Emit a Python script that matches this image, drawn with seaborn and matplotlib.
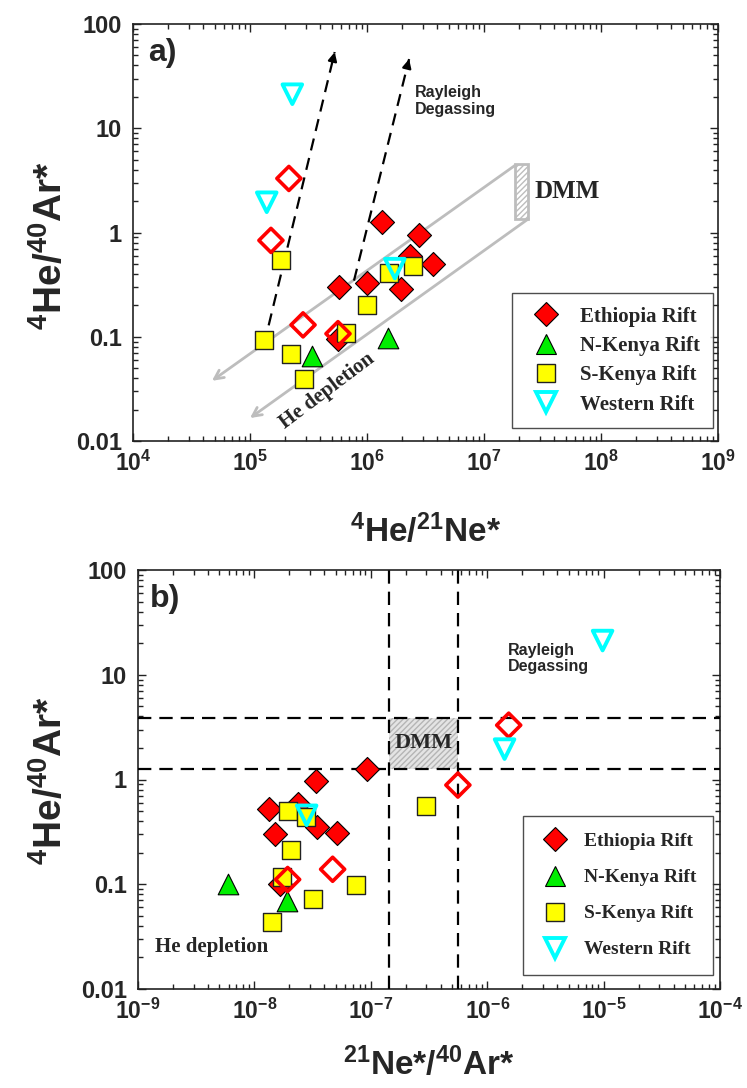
import numpy as np
import matplotlib
matplotlib.use("Agg")
import matplotlib.pyplot as plt
from matplotlib.lines import Line2D
from matplotlib.patches import Rectangle
from matplotlib.ticker import LogLocator, NullFormatter
import seaborn as sns

# ---- data -------------------------------------------------------------
groups = ["Ethiopia Rift", "N-Kenya Rift", "S-Kenya Rift", "Western Rift"]

# panel a: 4He/21Ne* vs 4He/40Ar*
eth_a_x = [1.34e6, 2.78e6, 2.33e6, 3.66e6, 1.00e6, 5.77e5, 1.95e6, 5.65e5]
eth_a_y = [1.25, 0.94, 0.59, 0.50, 0.33, 0.30, 0.29, 0.096]
eth_open_a_x = [2.15e5, 1.51e5, 2.84e5, 5.65e5]
eth_open_a_y = [3.30, 0.84, 0.130, 0.107]
nken_a_x = [3.39e5, 1.51e6]
nken_a_y = [0.066, 0.098]
sken_a_x = [1.84e5, 1.32e5, 2.24e5, 2.90e5, 6.62e5, 1.00e6, 1.54e6, 2.47e6]
sken_a_y = [0.54, 0.094, 0.069, 0.039, 0.109, 0.203, 0.41, 0.48]
west_a_x = [2.30e5, 1.39e5, 1.73e6]
west_a_y = [21.2, 1.95, 0.45]

# panel b: 21Ne*/40Ar* vs 4He/40Ar*
eth_b_x = [9.2e-8, 3.37e-8, 1.34e-8, 2.36e-8, 3.47e-8, 5.15e-8, 1.49e-8, 1.66e-8]
eth_b_y = [1.26, 0.97, 0.52, 0.59, 0.35, 0.31, 0.30, 0.10]
eth_open_b_x = [1.53e-6, 5.6e-7, 4.7e-8, 1.93e-8]
eth_open_b_y = [3.3, 0.885, 0.139, 0.111]
nken_b_x = [5.97e-9, 1.92e-8]
nken_b_y = [0.101, 0.069]
sken_b_x = [1.93e-8, 2.76e-8, 2.06e-8, 1.74e-8, 3.17e-8, 7.46e-8, 1.43e-8, 2.98e-7]
sken_b_y = [0.50, 0.44, 0.21, 0.118, 0.072, 0.098, 0.044, 0.56]
west_b_x = [9.8e-6, 1.41e-6, 2.81e-8]
west_b_y = [21.2, 1.95, 0.455]

# DMM field
dmm_a_x = [1.84e7, 2.39e7]
dmm_a_y = [1.35, 4.57]
dmm_b_x = [1.43e-7, 5.6e-7]
dmm_b_y = [1.26, 3.9]

# He-depletion trends (start, arrow tip) and Rayleigh degassing trends (start, tip)
depl_upper = [(1.84e7, 4.4), (4.73e4, 0.0378)]
depl_lower = [(2.39e7, 1.35), (1.0e5, 0.0166)]
rayl_left = [(1.316e5, 0.0837), (5.3e5, 53.8)]
rayl_right = [(7.74e5, 0.3455), (2.29e6, 46.1)]

y_ticks = [0.01, 0.1, 1, 10, 100]
y_tick_labels = ["0.01", "0.1", "1", "10", "100"]
xa_exps = [4, 5, 6, 7, 8, 9]
xb_exps = [-9, -8, -7, -6, -5, -4]

# ---- style ------------------------------------------------------------
sns.set_style("ticks")
plt.rcParams["font.family"] = ["Liberation Sans", "DejaVu Sans"]
plt.rcParams["mathtext.fontset"] = "custom"
plt.rcParams["mathtext.rm"] = "Liberation Sans"
plt.rcParams["mathtext.bf"] = "Liberation Sans:bold"
plt.rcParams["mathtext.it"] = "Liberation Sans:italic"
plt.rcParams["hatch.linewidth"] = 1.0

RED = "#FF0000"
GREEN = "#00EE00"
YELLOW = "#FFFF00"
CYAN = "#00FFFF"
GRAY = "#BDBDBD"
SERIF = ["Liberation Serif", "DejaVu Serif"]

W, H = 747, 1088
fig = plt.figure(figsize=(W / 100, H / 100), dpi=100)
ax1 = fig.add_axes([133 / W, 1 - 441 / H, 585 / W, 417 / H])
ax2 = fig.add_axes([138 / W, 1 - 989 / H, 582 / W, 419 / H])


def draw_points(ax, ex, ey, eox, eoy, nx, ny, sx, sy, wx, wy):
    sns.scatterplot(x=ex, y=ey, ax=ax, marker="D", s=150, color=RED,
                    edgecolor="black", linewidth=0.8, zorder=5)
    sns.scatterplot(x=eox, y=eoy, ax=ax, marker="D", s=150, facecolor="none",
                    edgecolor=RED, linewidth=2.6, zorder=6)
    sns.scatterplot(x=nx, y=ny, ax=ax, marker="^", s=220, color=GREEN,
                    edgecolor="black", linewidth=0.8, zorder=5)
    sns.scatterplot(x=sx, y=sy, ax=ax, marker="s", s=169, color=YELLOW,
                    edgecolor="#222222", linewidth=1.0, zorder=5)
    sns.scatterplot(x=wx, y=wy, ax=ax, marker="v", s=200, facecolor="none",
                    edgecolor=CYAN, linewidth=2.8, zorder=7)


def style_axes(ax, exps):
    ax.set_xscale("log")
    ax.set_yscale("log")
    ax.set_xlim(10.0 ** exps[0], 10.0 ** exps[-1])
    ax.set_ylim(0.01, 100)
    ax.set_xticks([10.0 ** e for e in exps])
    ax.set_xticklabels([r"$\mathbf{10^{%d}}$" % e for e in exps])
    ax.xaxis.set_minor_locator(LogLocator(base=10, subs=np.arange(2, 10), numticks=20))
    ax.xaxis.set_minor_formatter(NullFormatter())
    ax.set_yticks(y_ticks)
    ax.set_yticklabels(y_tick_labels)
    ax.yaxis.set_minor_locator(LogLocator(base=10, subs=np.arange(2, 10), numticks=20))
    ax.yaxis.set_minor_formatter(NullFormatter())
    ax.tick_params(which="both", direction="in", top=True, right=True,
                   color="#222222", width=1.0)
    ax.tick_params(which="major", length=6)
    ax.tick_params(which="minor", length=3.5)
    ax.tick_params(axis="y", which="major", pad=8, labelsize=17)
    ax.tick_params(axis="x", which="major", pad=7, labelsize=16.5)
    for lab in ax.get_yticklabels():
        lab.set_fontweight("bold")
    for sp in ax.spines.values():
        sp.set_linewidth(1.2)
        sp.set_color("#222222")
    ax.set_xlabel("")
    ax.set_ylabel("")


def add_legend(ax, anchor, loc, size, spacing, pad, hlen, textpad):
    handles = [
        Line2D([], [], ls="none", marker="D", ms=12.2, mfc=RED, mec="black", mew=0.8),
        Line2D([], [], ls="none", marker="^", ms=14.8, mfc=GREEN, mec="black", mew=0.8),
        Line2D([], [], ls="none", marker="s", ms=13, mfc=YELLOW, mec="#222222", mew=1.0),
        Line2D([], [], ls="none", marker="v", ms=14, mfc="none", mec=CYAN, mew=2.8),
    ]
    leg = ax.legend(handles, groups, loc=loc, bbox_to_anchor=anchor,
                    frameon=True, fancybox=False, edgecolor="#222222",
                    prop={"family": SERIF, "weight": "bold", "size": size},
                    borderpad=pad, handlelength=hlen, handletextpad=textpad,
                    labelspacing=spacing, borderaxespad=0)
    leg.get_frame().set_linewidth(1.0)
    leg.set_zorder(10)


# ---- panel a ------------------------------------------------------------
style_axes(ax1, xa_exps)
draw_points(ax1, eth_a_x, eth_a_y, eth_open_a_x, eth_open_a_y,
            nken_a_x, nken_a_y, sken_a_x, sken_a_y, west_a_x, west_a_y)

ax1.add_patch(Rectangle((dmm_a_x[0], dmm_a_y[0]), dmm_a_x[1] - dmm_a_x[0],
                        dmm_a_y[1] - dmm_a_y[0], facecolor="white",
                        edgecolor=GRAY, hatch="//////", linewidth=2.0, zorder=3))

for (p0, p1) in (depl_upper, depl_lower):
    ax1.annotate("", xy=p1, xytext=p0,
                 arrowprops=dict(arrowstyle="->", color=GRAY, lw=2.0,
                                 mutation_scale=16, shrinkA=0, shrinkB=0),
                 zorder=2)

for (p0, p1) in (rayl_left, rayl_right):
    ax1.plot([p0[0], p1[0]], [p0[1], p1[1]], color="black", lw=1.6,
             ls=(0, (5.5, 3.5)), zorder=4)
    lx0, ly0 = np.log10(p0)
    lx1, ly1 = np.log10(p1)
    back = (10 ** (lx1 - 0.03 * (lx1 - lx0)), 10 ** (ly1 - 0.03 * (ly1 - ly0)))
    ax1.annotate("", xy=p1, xytext=back,
                 arrowprops=dict(arrowstyle="-|>", color="black", lw=1.6,
                                 mutation_scale=13, shrinkA=0, shrinkB=0),
                 zorder=4)

ax1.text(2.57e6, 18.2, "Rayleigh\nDegassing", fontsize=11.5, fontweight="bold",
         ha="left", va="center", linespacing=1.15)
ax1.text(5.17e7, 2.5, "DMM", family=SERIF, fontsize=18, fontweight="bold",
         ha="center", va="center")
ax1.text(4.55e5, 0.030, "He depletion", family=SERIF, fontsize=15,
         fontweight="bold", rotation=37, rotation_mode="anchor",
         ha="center", va="center")
ax1.text(0.026, 0.93, "a)", transform=ax1.transAxes, fontsize=23,
         fontweight="bold", ha="left", va="center")
add_legend(ax1, ((512 - 133) / 585, 1 - (293 - 24) / 417), "upper left",
           15, 0.45, 0.65, 2.0, 0.6)

# ---- panel b ------------------------------------------------------------
style_axes(ax2, xb_exps)
draw_points(ax2, eth_b_x, eth_b_y, eth_open_b_x, eth_open_b_y,
            nken_b_x, nken_b_y, sken_b_x, sken_b_y, west_b_x, west_b_y)

ax2.add_patch(Rectangle((dmm_b_x[0], dmm_b_y[0]), dmm_b_x[1] - dmm_b_x[0],
                        dmm_b_y[1] - dmm_b_y[0], facecolor="#E4E4E4",
                        edgecolor="#B5B5B5", hatch="//////", linewidth=0, zorder=1))
for xv in dmm_b_x:
    ax2.axvline(xv, color="black", lw=1.6, ls=(0, (6, 3.6)), zorder=3)
for yv in dmm_b_y:
    ax2.axhline(yv, color="black", lw=1.6, ls=(0, (6, 3.6)), zorder=3)

ax2.text(1.51e-6, 14.3, "Rayleigh\nDegassing", fontsize=11.5, fontweight="bold",
         ha="left", va="center", linespacing=1.15)
ax2.text(2.84e-7, 2.24, "DMM", family=SERIF, fontsize=16, fontweight="bold",
         ha="center", va="center", zorder=4)
ax2.text(1.4e-9, 0.025, "He depletion", family=SERIF, fontsize=15,
         fontweight="bold", ha="left", va="center")
ax2.text(0.021, 0.93, "b)", transform=ax2.transAxes, fontsize=23,
         fontweight="bold", ha="left", va="center")
add_legend(ax2, ((713 - 138) / 582, 1 - (975 - 570) / 419), "lower right",
           14, 0.95, 0.85, 1.6, 0.7)

# ---- axis titles ----------------------------------------------------------
fig.text(426 / W, 1 - 542 / H, r"$\mathbf{^{4}}$He/$\mathbf{^{21}}$Ne*",
         ha="center", va="baseline", fontsize=24, fontweight="bold")
fig.text(429 / W, 1 - 1075 / H, r"$\mathbf{^{21}}$Ne*/$\mathbf{^{40}}$Ar*",
         ha="center", va="baseline", fontsize=24, fontweight="bold")
fig.text(50 / W, 1 - 245 / H, r"$\mathbf{^{4}}$He/$\mathbf{^{40}}$Ar*",
         ha="center", va="center", rotation=90, fontsize=28, fontweight="bold")
fig.text(50 / W, 1 - 780 / H, r"$\mathbf{^{4}}$He/$\mathbf{^{40}}$Ar*",
         ha="center", va="center", rotation=90, fontsize=28, fontweight="bold")

fig.savefig("out.png", dpi=100)
